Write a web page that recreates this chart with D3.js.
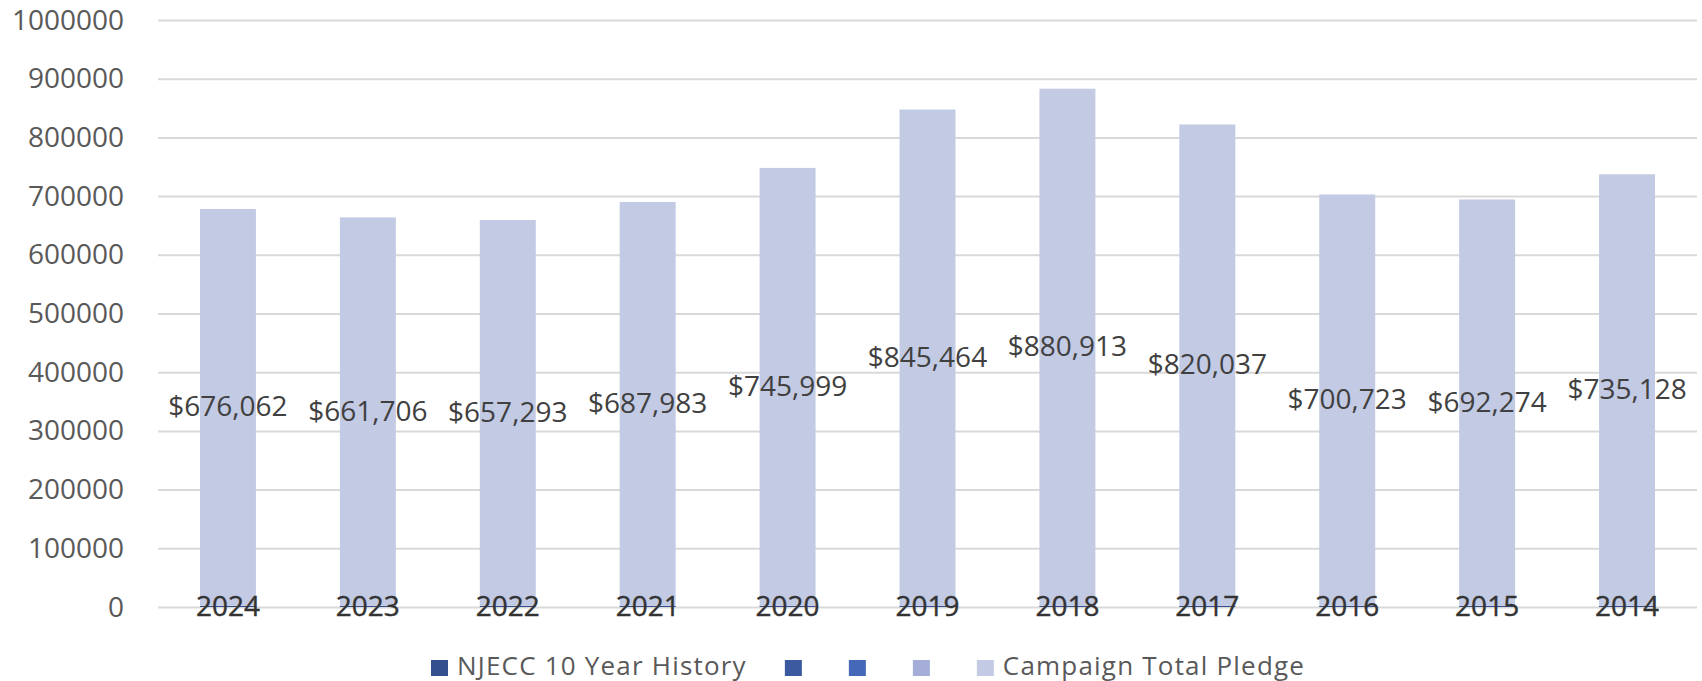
<!DOCTYPE html>
<html>
<head>
<meta charset="utf-8">
<script src="https://cdn.jsdelivr.net/npm/d3@7"></script>
<style>
  body { margin: 0; background: #ffffff; }
  svg { display: block; font-family: "Open Sans", sans-serif; }
</style>
</head>
<body>
<script>
/*======================== DATA ========================*/
var years = ["2024", "2023", "2022", "2021", "2020", "2019", "2018", "2017", "2016", "2015", "2014"];
var yearHistory = [2024, 2023, 2022, 2021, 2020, 2019, 2018, 2017, 2016, 2015, 2014];
var blankA = [0, 0, 0, 0, 0, 0, 0, 0, 0, 0, 0];
var blankB = [0, 0, 0, 0, 0, 0, 0, 0, 0, 0, 0];
var blankC = [0, 0, 0, 0, 0, 0, 0, 0, 0, 0, 0];
var pledge = [676062, 661706, 657293, 687983, 745999, 845464, 880913, 820037, 700723, 692274, 735128];
var yTicks = [0, 100000, 200000, 300000, 400000, 500000, 600000, 700000, 800000, 900000, 1000000];
var seriesNames = ["NJECC 10 Year History", "", "", "", "Campaign Total Pledge"];
var seriesColors = ["#34508f", "#3c5aa0", "#4568b8", "#a3add8", "#c3cae4"];

/*======================== SETUP ========================*/
var width = 1702, height = 681;
var plotLeft = 158, plotRight = 1697, plotTop = 20, plotBottom = 607;

var svg = d3.select("body").append("svg")
    .attr("width", width)
    .attr("height", height);

var x = d3.scaleBand()
    .domain(years)
    .range([plotLeft, plotRight])
    .paddingInner(0.6)
    .paddingOuter(0.3);

var y = d3.scaleLinear()
    .domain([0, 1000000])
    .range([plotBottom, plotTop]);

var rows = years.map(function(yr, i) {
  return { year: yr, s0: yearHistory[i], s1: blankA[i], s2: blankB[i], s3: blankC[i], s4: pledge[i] };
});

var stack = d3.stack().keys(["s0", "s1", "s2", "s3", "s4"]);
var layers = stack(rows);

/*======================== GRID ========================*/
var yAxis = d3.axisLeft(y)
    .tickValues(yTicks)
    .tickSize(-(plotRight - plotLeft))
    .tickPadding(34)
    .tickFormat(function(d) { return d; });

var gy = svg.append("g")
    .attr("transform", "translate(" + plotLeft + ",0)")
    .call(yAxis);

gy.select(".domain").remove();
gy.selectAll(".tick line")
    .attr("stroke", "#d9d9d9")
    .attr("stroke-width", 2);
gy.selectAll(".tick text")
    .attr("fill", "#595959")
    .attr("font-size", "28px")
    .attr("font-family", "Open Sans, sans-serif")
    .attr("dy", "9px");

/*======================== BARS ========================*/
svg.append("g").selectAll("g")
    .data(layers)
    .enter().append("g")
    .attr("fill", function(d, i) { return seriesColors[i]; })
    .selectAll("rect")
    .data(function(d) { return d; })
    .enter().append("rect")
    .attr("x", function(d) { return x(d.data.year); })
    .attr("width", x.bandwidth())
    .attr("y", function(d) { return y(d[1]); })
    .attr("height", function(d) { return y(d[0]) - y(d[1]); });

// value labels, centred on the pledge segment
var fmt = d3.format("$,");
svg.append("g").selectAll("text")
    .data(layers[4])
    .enter().append("text")
    .attr("x", function(d) { return x(d.data.year) + x.bandwidth() / 2; })
    .attr("y", function(d) { return (y(d[0]) + y(d[1])) / 2 + 9; })
    .attr("text-anchor", "middle")
    .attr("fill", "#404040")
    .attr("font-size", "28px")
    .text(function(d) { return fmt(d.data.s4); });

// year labels sitting on the axis
svg.append("g").selectAll("text")
    .data(years)
    .enter().append("text")
    .attr("x", function(d) { return x(d) + x.bandwidth() / 2; })
    .attr("y", plotBottom + 9)
    .attr("text-anchor", "middle")
    .attr("fill", "#333333")
    .attr("font-size", "28px")
    .attr("stroke", "#333333")
    .attr("stroke-width", 0.4)
    .text(function(d) { return d; });

/*======================== LEGEND ========================*/
var legend = svg.append("g");
var lx = 431;
seriesNames.forEach(function(name, i) {
  legend.append("rect")
      .attr("x", lx)
      .attr("y", 660)
      .attr("width", 17)
      .attr("height", 16)
      .attr("fill", seriesColors[i]);
  var w = 0;
  if (name != "") {
    var t = legend.append("text")
        .attr("x", lx + 26)
        .attr("y", 675)
        .attr("fill", "#595959")
        .attr("font-size", "26px")
        .attr("letter-spacing", "1.2px")
        .text(name);
    w = t.node().getComputedTextLength();
  }
  lx = lx + 26 + w + 38;
});
</script>
</body>
</html>
